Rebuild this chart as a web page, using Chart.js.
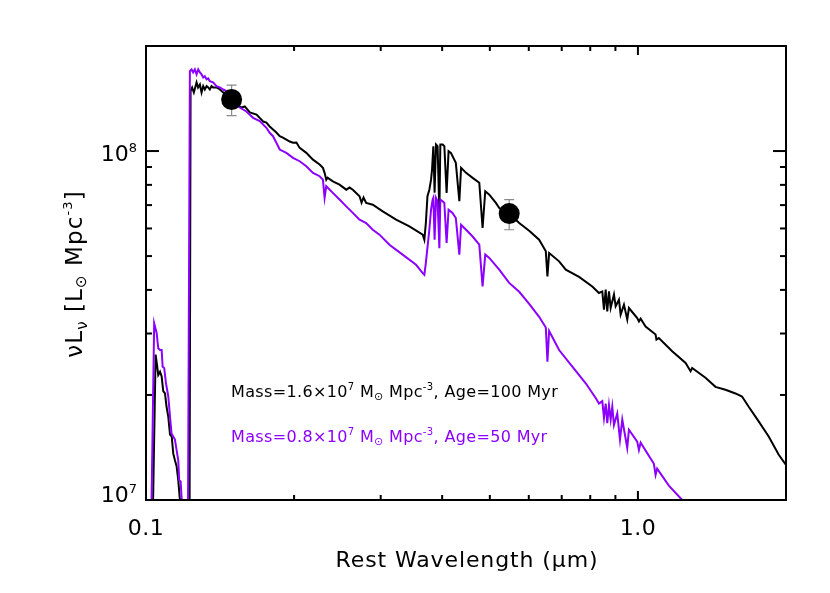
<!DOCTYPE html>
<html>
<head>
<meta charset="utf-8">
<script src="https://cdn.jsdelivr.net/npm/chart.js@4.4.0/dist/chart.umd.min.js"></script>
<style>
  html, body { margin: 0; padding: 0; background: #fff; }
  #wrap { width: 830px; height: 593px; position: relative; }
</style>
</head>
<body>
<div id="wrap"><canvas id="sed-chart"></canvas></div>
<script>
// wavelengths in micron, luminosities in units of 1e7 Lsun Mpc^-3
const oldWave = [0.1008, 0.1031, 0.1046, 0.1054, 0.1059, 0.1068, 0.1076, 0.1084, 0.1093, 0.1101, 0.1110, 0.1119, 0.1128, 0.1136, 0.1145, 0.1154, 0.1163, 0.1172, 0.1178, 0.1200,
  0.1225, 0.1232, 0.1241, 0.1251, 0.1267, 0.1276, 0.1287, 0.1297, 0.1307, 0.1317, 0.1328, 0.1338, 0.1348, 0.1359, 0.1369, 0.1391, 0.1413, 0.1435, 0.1480, 0.1528,
  0.1564, 0.1588, 0.1626, 0.1678, 0.1730, 0.1757, 0.1784, 0.1841, 0.1870, 0.1898, 0.1929, 0.1960, 0.1990, 0.2022, 0.2053, 0.2118, 0.2151, 0.2185, 0.2254, 0.2289,
  0.2307, 0.2325, 0.2339, 0.2398, 0.2474, 0.2553, 0.2593, 0.2633, 0.2717, 0.2743, 0.2768, 0.2803, 0.2891, 0.3029, 0.3224, 0.3431, 0.3652, 0.3680, 0.3706, 0.3734,
  0.3767, 0.3797, 0.3815, 0.3838, 0.3861, 0.3886, 0.3915, 0.3948, 0.3966, 0.4009, 0.4041, 0.4084, 0.4122, 0.4167, 0.4264, 0.4335, 0.4370, 0.4474, 0.4613, 0.4759,
  0.4833, 0.4894, 0.4987, 0.5144, 0.5225, 0.5474, 0.5737, 0.6011, 0.6298, 0.6498, 0.6547, 0.6599, 0.6915, 0.7134, 0.7592, 0.8076, 0.8334, 0.8464, 0.8531, 0.8599,
  0.8663, 0.8733, 0.8802, 0.8939, 0.9010, 0.9151, 0.9223, 0.9367, 0.9513, 0.9588, 0.9968, 1.0047, 1.0128, 1.0366, 1.0862, 1.0905, 1.1029, 1.1739, 1.2500, 1.2794,
  1.2890, 1.3720, 1.4377, 1.5066, 1.5786, 1.6280, 1.6796, 1.7600, 1.8443, 1.9320, 2.0000];
const oldLum = [0.5, 0.8, 2.61, 2.41, 2.28, 2.33, 2.26, 2.05, 2.02, 1.85, 1.73, 1.54, 1.52, 1.36, 1.30, 1.25, 1.14, 1.00, 0.80, 0.5,
  0.5, 14.85, 15.21, 14.72, 15.73, 15.21, 15.52, 14.72, 15.35, 15.01, 15.35, 15.21, 15.01, 15.35, 15.21, 15.21, 15.01, 14.72, 14.33, 13.60,
  13.33, 13.42, 12.90, 12.72, 12.15, 12.07, 11.76, 11.30, 11.03, 10.93, 10.79, 10.65, 10.56, 10.58, 10.21, 9.88, 9.66, 9.45, 9.15, 8.95,
  8.66, 8.28, 8.39, 8.19, 8.01, 7.75, 7.86, 7.75, 7.42, 7.11, 7.36, 7.10, 7.02, 6.72, 6.36, 6.08, 5.76, 5.57, 6.22, 7.42,
  7.75, 8.28, 8.85, 10.32, 7.60, 10.44, 10.32, 6.66, 10.44, 10.44, 10.32, 7.59, 9.99, 9.88, 9.25, 7.18, 8.95, 8.66, 8.38, 8.11,
  6.02, 7.67, 7.50, 7.10, 6.87, 6.62, 6.22, 5.91, 5.57, 5.16, 4.37, 5.10, 4.83, 4.57, 4.36, 4.09, 3.92, 3.96, 3.51, 4.01,
  3.47, 3.96, 3.55, 3.88, 3.59, 3.75, 3.40, 3.63, 3.29, 3.55, 3.32, 3.25, 3.31, 3.14, 2.98, 2.88, 2.91, 2.67, 2.47, 2.34,
  2.39, 2.24, 2.11, 2.07, 2.02, 1.98, 1.85, 1.68, 1.52, 1.35, 1.26];

const youngWave = [0.1010, 0.1024, 0.1039, 0.1051, 0.1059, 0.1068, 0.1076, 0.1081, 0.1089, 0.1098, 0.1110, 0.1119, 0.1127, 0.1136, 0.1145, 0.1154, 0.1163, 0.1168, 0.1176, 0.1182,
  0.1189, 0.1200, 0.1215, 0.1228, 0.1238, 0.1247, 0.1257, 0.1267, 0.1277, 0.1287, 0.1297, 0.1307, 0.1317, 0.1328, 0.1338, 0.1348, 0.1369, 0.1391, 0.1413, 0.1435,
  0.1458, 0.1480, 0.1503, 0.1528, 0.1551, 0.1600, 0.1651, 0.1703, 0.1757, 0.1784, 0.1812, 0.1841, 0.1870, 0.1929, 0.1990, 0.2053, 0.2118, 0.2185, 0.2254, 0.2289,
  0.2307, 0.2325, 0.2398, 0.2474, 0.2553, 0.2633, 0.2717, 0.2803, 0.2891, 0.2983, 0.3125, 0.3324, 0.3540, 0.3652, 0.3680, 0.3706, 0.3767, 0.3797, 0.3826, 0.3838,
  0.3861, 0.3886, 0.3915, 0.3948, 0.3966, 0.4009, 0.4041, 0.4084, 0.4122, 0.4198, 0.4264, 0.4335, 0.4370, 0.4474, 0.4613, 0.4759, 0.4833, 0.4894, 0.4987, 0.5225,
  0.5474, 0.5737, 0.6011, 0.6298, 0.6498, 0.6547, 0.6599, 0.6915, 0.7357, 0.7832, 0.8206, 0.8334, 0.8464, 0.8531, 0.8599, 0.8663, 0.8733, 0.8802, 0.8870, 0.8939,
  0.9078, 0.9195, 0.9294, 0.9513, 0.9588, 0.9968, 1.0047, 1.0128, 1.0776, 1.0862, 1.0942, 1.1558, 1.2302, 1.3298];
const youngLum = [0.5, 0.8, 3.21, 3.01, 2.72, 2.69, 2.69, 2.41, 2.39, 2.16, 1.98, 1.73, 1.55, 1.52, 1.49, 1.39, 1.30, 1.14, 1.13, 1.00,
  0.80, 0.5, 0.5, 16.94, 17.13, 16.80, 17.13, 16.58, 17.13, 16.80, 16.58, 16.25, 16.39, 16.04, 16.15, 15.86, 15.73, 15.35, 15.21, 15.01,
  14.85, 14.62, 14.24, 13.60, 13.33, 12.98, 12.45, 12.18, 11.66, 11.28, 11.03, 10.56, 10.10, 9.88, 9.56, 9.35, 9.05, 8.66, 8.47, 8.28,
  7.34, 7.93, 7.59, 7.26, 6.94, 6.65, 6.36, 6.22, 5.95, 5.76, 5.39, 5.05, 4.72, 4.47, 4.42, 4.78, 5.95, 6.79, 7.26, 7.34,
  5.57, 7.34, 7.18, 5.27, 7.26, 7.18, 7.10, 5.45, 6.79, 6.65, 6.43, 5.05, 6.15, 5.95, 5.69, 5.39, 4.09, 5.05, 4.94, 4.57,
  4.19, 3.95, 3.65, 3.35, 3.12, 2.49, 3.05, 2.69, 2.41, 2.16, 1.96, 1.89, 1.92, 1.72, 1.89, 1.66, 1.87, 1.70, 1.85, 1.64,
  1.77, 1.49, 1.70, 1.41, 1.59, 1.47, 1.39, 1.46, 1.27, 1.18, 1.23, 1.10, 1.00, 0.86];

// photometric points with error bars
const obsWave = [0.1493, 0.5474];
const obsLum = [14.05, 6.62];
const obsLow = [12.64, 5.95];
const obsHigh = [15.45, 7.26];

const UNIT = 1e7;
const xMajor = [0.1, 1.0];
const xMajorLabels = ['0.1', '1.0'];
const xMinor = [0.2, 0.3, 0.4, 0.5, 0.6, 0.7, 0.8, 0.9, 2.0];
const yMajor = [1e7, 1e8];
const yMajorExp = ['7', '8'];
const yMinor = [2e7, 3e7, 4e7, 5e7, 6e7, 7e7, 8e7, 9e7, 2e8];

const PURPLE = '#8c00ff';
const FONT = '"DejaVu Sans", sans-serif';

const toPoints = (w, l) => w.map((v, i) => ({ x: v, y: l[i] * UNIT }));

// draw text made of pieces [text, size, dy]
function drawRich(ctx, x, y, parts, align, spacing) {
  ctx.letterSpacing = (spacing || 0) + 'px';
  let w = 0;
  parts.forEach(p => { ctx.font = p[1] + 'px ' + FONT; w += ctx.measureText(p[0]).width; });
  let cx = align === 'center' ? x - w / 2 : align === 'right' ? x - w : x;
  ctx.textAlign = 'left';
  ctx.textBaseline = 'alphabetic';
  parts.forEach(p => {
    ctx.font = p[1] + 'px ' + FONT;
    ctx.fillText(p[0], cx, y + (p[2] || 0));
    cx += ctx.measureText(p[0]).width;
  });
  ctx.letterSpacing = '0px';
}

const framePlugin = {
  id: 'frame',
  beforeDatasetsDraw(chart) {
    const { ctx, scales: { x, y } } = chart;
    ctx.save();
    ctx.strokeStyle = '#8a8a8a';
    ctx.lineWidth = 1.2;
    obsWave.forEach((w, i) => {
      const px = x.getPixelForValue(w);
      const top = y.getPixelForValue(obsHigh[i] * UNIT);
      const bot = y.getPixelForValue(obsLow[i] * UNIT);
      ctx.beginPath();
      ctx.moveTo(px, top); ctx.lineTo(px, bot);
      ctx.moveTo(px - 5, top); ctx.lineTo(px + 5, top);
      ctx.moveTo(px - 5, bot); ctx.lineTo(px + 5, bot);
      ctx.stroke();
    });
    ctx.restore();
  },
  afterDatasetsDraw(chart) {
    const { ctx, chartArea: a, scales: { x, y } } = chart;
    ctx.save();
    ctx.strokeStyle = '#000';
    ctx.fillStyle = '#000';
    ctx.lineWidth = 2;
    ctx.strokeRect(a.left, a.top, a.right - a.left, a.bottom - a.top);

    const tick = (x1, y1, x2, y2) => { ctx.beginPath(); ctx.moveTo(x1, y1); ctx.lineTo(x2, y2); ctx.stroke(); };
    xMajor.forEach(v => { const p = x.getPixelForValue(v); tick(p, a.bottom, p, a.bottom - 9); tick(p, a.top, p, a.top + 9); });
    xMinor.forEach(v => { const p = x.getPixelForValue(v); tick(p, a.bottom, p, a.bottom - 5); tick(p, a.top, p, a.top + 5); });
    yMajor.forEach(v => { const p = y.getPixelForValue(v); tick(a.left, p, a.left + 13, p); tick(a.right, p, a.right - 13, p); });
    yMinor.forEach(v => { const p = y.getPixelForValue(v); tick(a.left, p, a.left + 6, p); tick(a.right, p, a.right - 6, p); });

    // tick labels
    xMajor.forEach((v, i) => {
      drawRich(ctx, x.getPixelForValue(v), a.bottom + 35, [[xMajorLabels[i], 22, 0]], 'center', 0.5);
    });
    yMajor.forEach((v, i) => {
      const p = Math.min(y.getPixelForValue(v) + 10, a.bottom + 2);
      drawRich(ctx, a.left - 9, p, [['10', 22, 0], [yMajorExp[i], 13, -9]], 'right', 0);
    });

    // axis titles
    drawRich(ctx, (a.left + a.right) / 2 + 1, 567, [['Rest Wavelength (', 22, 0], ['\u03bc', 22, 0], ['m)', 22, 0]], 'center', 0.9);
    ctx.save();
    ctx.translate(82, 274);
    ctx.rotate(-Math.PI / 2);
    drawRich(ctx, 0, 0, [['\u03bdL', 23, 0], ['\u03bd', 15, 5], [' [L', 23, 0], ['\u2299', 15, 4], [' Mpc', 23, 0], ['-3', 13, -10], [']', 23, 0]], 'center', 1.1);
    ctx.restore();

    // model labels
    ctx.fillStyle = '#000';
    drawRich(ctx, 231, 397, [['Mass=1.6\u00d710', 16, 0], ['7', 10, -7], [' M', 16, 0], ['\u2299', 11, 3], [' Mpc', 16, 0], ['-3', 10, -7], [', Age=100 Myr', 16, 0]], 'left', 0.35);
    ctx.fillStyle = PURPLE;
    drawRich(ctx, 231, 442, [['Mass=0.8\u00d710', 16, 0], ['7', 10, -7], [' M', 16, 0], ['\u2299', 11, 3], [' Mpc', 16, 0], ['-3', 10, -7], [', Age=50 Myr', 16, 0]], 'left', 0.35);
    ctx.restore();
  }
};

new Chart(document.getElementById('sed-chart'), {
  type: 'line',
  data: {
    datasets: [
      {
        type: 'scatter',
        data: toPoints(obsWave, obsLum),
        pointRadius: 10.5,
        pointBackgroundColor: '#000',
        pointBorderWidth: 0,
        order: 0
      },
      {
        data: toPoints(youngWave, youngLum),
        borderColor: PURPLE,
        borderWidth: 2,
        pointRadius: 0,
        tension: 0,
        order: 1
      },
      {
        data: toPoints(oldWave, oldLum),
        borderColor: '#000',
        borderWidth: 2,
        pointRadius: 0,
        tension: 0,
        order: 2
      }
    ]
  },
  options: {
    responsive: true,
    maintainAspectRatio: false,
    animation: false,
    events: [],
    layout: { padding: { left: 146, right: 44, top: 46, bottom: 93 } },
    scales: {
      x: { type: 'logarithmic', min: 0.1, max: 2.0, display: false },
      y: { type: 'logarithmic', min: 1e7, max: 2e8, display: false }
    },
    plugins: {
      legend: { display: false },
      tooltip: { enabled: false }
    }
  },
  plugins: [framePlugin]
});
</script>
</body>
</html>
